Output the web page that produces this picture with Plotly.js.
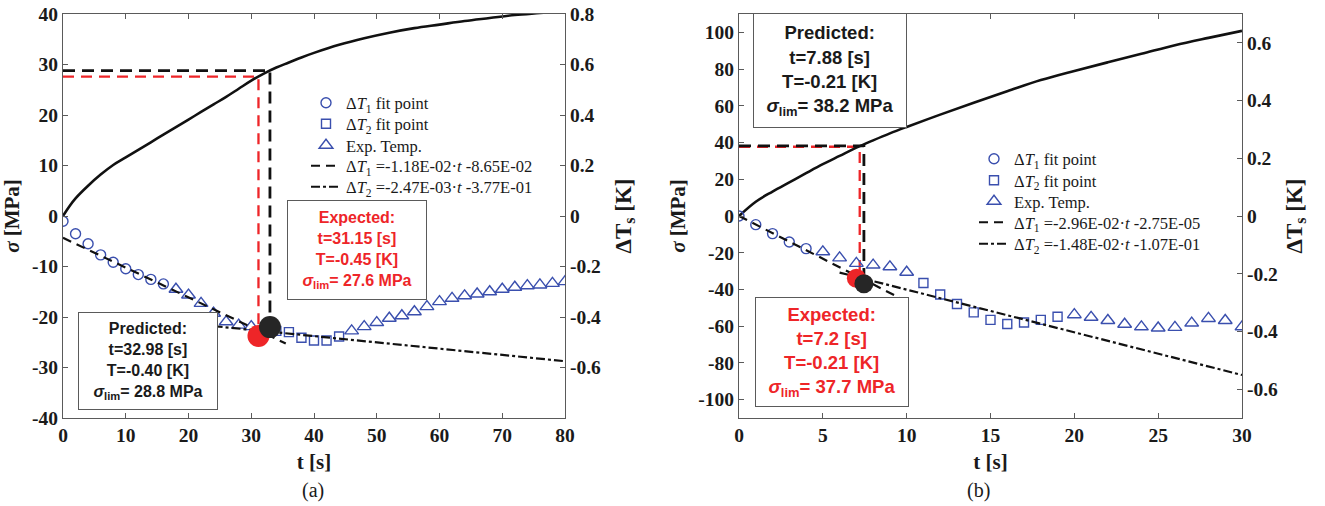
<!DOCTYPE html>
<html>
<head>
<meta charset="utf-8">
<script src="https://cdn.plot.ly/plotly-3.0.1.min.js"></script>
<style>html,body{margin:0;padding:0;background:#fff;}#chart{width:1325px;height:506px;}</style>
</head>
<body>
<div id="chart"></div>
<script>
// ---------- Panel (a) data ----------
const aCurveT = [0,1,2,4,6,8,10,12,14,16,18,20,22,24,26,28,30,32,34,36,38,40,44,48,52,56,60,64,68,72,76,80];
const aCurveSigma = [0,1.9,3.5,6.0,8.2,10.1,11.6,13.1,14.6,16.1,17.6,19.1,20.6,22.1,23.6,25.2,26.8,28.2,29.4,30.4,31.4,32.3,33.9,35.2,36.3,37.2,37.9,38.6,39.2,39.8,40.2,40.6];
const aCircT = [0,2,4,6,8,10,12,14,16];
const aCircDT = [-0.021,-0.07,-0.11,-0.154,-0.183,-0.209,-0.232,-0.251,-0.269];
const aSqT = [34,36,38,40,42,44];
const aSqDT = [-0.455,-0.46,-0.482,-0.493,-0.493,-0.477];
const aTriT = [18,20,22,24,26,28,30,32,46,48,50,52,54,56,58,60,62,64,66,68,70,72,74,76,78,80];
const aTriDT = [-0.29,-0.313,-0.346,-0.385,-0.419,-0.432,-0.438,-0.443,-0.455,-0.438,-0.422,-0.405,-0.395,-0.379,-0.359,-0.339,-0.326,-0.316,-0.309,-0.3,-0.29,-0.282,-0.276,-0.273,-0.267,-0.26];
const aFit1T = [0,35.5], aFit1DT = [-0.0865,-0.505];
const aFit2T = [24,80], aFit2DT = [-0.436,-0.575];
const aExpT = [0,31.15,31.15], aExpSigma = [27.6,27.6,-23.7];
const aPredT = [0,32.98,32.98], aPredSigma = [28.8,28.8,-22];
const aDotT = [31.15,32.98], aDotDT = [-0.475,-0.44];
const aFit1Name = 'Δ<i>T</i><sub>1</sub> =-1.18E-02·<i>t</i> -8.65E-02';
const aFit2Name = 'Δ<i>T</i><sub>2</sub> =-2.47E-03·<i>t</i> -3.77E-01';
const aExpText = 'Expected:<br>t=31.15 [s]<br>T=-0.45 [K]<br><i>σ</i><sub>lim</sub>= 27.6 MPa';
const aPredText = 'Predicted:<br>t=32.98 [s]<br>T=-0.40 [K]<br><i>σ</i><sub>lim</sub>= 28.8 MPa';
const aXTicks = [0,10,20,30,40,50,60,70,80];
const aYTicks = [-40,-30,-20,-10,0,10,20,30,40];
const aYTickText = ['-40','-30','-20','-10','0','10','20','30','40'];
const aY2Ticks = [-0.6,-0.4,-0.2,0,0.2,0.4,0.6,0.8];
const aY2TickText = ['-0.6','-0.4','-0.2','0','0.2','0.4','0.6','0.8'];

// ---------- Panel (b) data ----------
const bCurveT = [0,1,2,3,4,5,6,7,8,9,10,12,14,16,18,20,22,24,26,28,30];
const bCurveSigma = [0,7.8,13.3,18.3,23.3,28.2,32.7,37.2,41.2,45,48.5,55.2,61.7,67.9,74,79,83.7,88.3,93,97,100.8];
const bCircT = [0,1,2,3,4];
const bCircDT = [0,-0.03,-0.061,-0.09,-0.113];
const bSqT = [11,12,13,14,15,16,17,18,19];
const bSqDT = [-0.232,-0.272,-0.305,-0.334,-0.36,-0.374,-0.369,-0.36,-0.349];
const bTriT = [5,6,7,8,9,10,20,21,22,23,24,25,26,27,28,29,30];
const bTriDT = [-0.124,-0.145,-0.164,-0.17,-0.176,-0.195,-0.342,-0.351,-0.362,-0.375,-0.384,-0.388,-0.386,-0.371,-0.355,-0.362,-0.384];
const bFit1T = [0,10], bFit1DT = [0,-0.296];
const bFit2T = [6,30], bFit2DT = [-0.196,-0.551];
const bExpT = [0,7.2,7.2], bExpSigma = [37.7,37.7,-34];
const bPredT = [0,7.45,7.45], bPredSigma = [38.2,38.2,-37];
const bDotT = [7.0,7.45], bDotDT = [-0.216,-0.235];
const bFit1Name = 'Δ<i>T</i><sub>1</sub> =-2.96E-02·<i>t</i> -2.75E-05';
const bFit2Name = 'Δ<i>T</i><sub>2</sub> =-1.48E-02·<i>t</i> -1.07E-01';
const bExpText = 'Expected:<br>t=7.2 [s]<br>T=-0.21 [K]<br><i>σ</i><sub>lim</sub>= 37.7 MPa';
const bPredText = 'Predicted:<br>t=7.88 [s]<br>T=-0.21 [K]<br><i>σ</i><sub>lim</sub>= 38.2 MPa';
const bXTicks = [0,5,10,15,20,25,30];
const bYTicks = [-100,-80,-60,-40,-20,0,20,40,60,80,100];
const bYTickText = ['-100','-80','-60','-40','-20','0','20','40','60','80','100'];
const bY2Ticks = [-0.6,-0.4,-0.2,0,0.2,0.4,0.6];
const bY2TickText = ['-0.6','-0.4','-0.2','0','0.2','0.4','0.6'];

const legendNames = ['Δ<i>T</i><sub>1</sub> fit point','Δ<i>T</i><sub>2</sub> fit point','Exp. Temp.'];

// ---------- styles ----------
const W = 1325, H = 506;
const BLUE = '#3a4fae', RED = '#ee2528', BLK = '#111111', AX = '#5a5a5a';
const serif = 'Liberation Serif, Times New Roman, serif';
const sans = 'Liberation Sans, Arial, sans-serif';
const px = v => v / W, py = v => 1 - v / H;

// one legend box per entry, so each row sits at its own height
function panel(xa, ya, ya2, legs, d) {
  const tr = [];
  tr.push({x:d.expT, y:d.expS, xaxis:xa, yaxis:ya, mode:'lines', line:{color:RED, width:2.3, dash:'11px,7px'}, showlegend:false, hoverinfo:'skip'});
  tr.push({x:d.predT, y:d.predS, xaxis:xa, yaxis:ya, mode:'lines', line:{color:BLK, width:2.8, dash:'12px,7px'}, showlegend:false, hoverinfo:'skip'});
  tr.push({x:d.curveT, y:d.curveS, xaxis:xa, yaxis:ya, mode:'lines', line:{color:BLK, width:2.6, shape:'spline'}, showlegend:false});
  tr.push({x:d.circT, y:d.circDT, xaxis:xa, yaxis:ya2, mode:'markers', name:legendNames[0], legend:legs[0], marker:{symbol:'circle-open', size:10, color:BLUE, line:{width:1.4}}});
  tr.push({x:d.sqT, y:d.sqDT, xaxis:xa, yaxis:ya2, mode:'markers', name:legendNames[1], legend:legs[1], marker:{symbol:'square-open', size:9, color:BLUE, line:{width:1.4}}});
  tr.push({x:d.triT, y:d.triDT, xaxis:xa, yaxis:ya2, mode:'markers', name:legendNames[2], legend:legs[2], marker:{symbol:'triangle-up-open', size:12, color:BLUE, line:{width:1.4}}});
  tr.push({x:d.f1T, y:d.f1DT, xaxis:xa, yaxis:ya2, mode:'lines', name:d.f1Name, legend:legs[3], line:{color:BLK, width:2.2, dash:'9px,6px'}});
  tr.push({x:d.f2T, y:d.f2DT, xaxis:xa, yaxis:ya2, mode:'lines', name:d.f2Name, legend:legs[4], line:{color:BLK, width:2.2, dash:'9px,3px,3px,3px'}});
  tr.push({x:[d.dotT[0]], y:[d.dotDT[0]], xaxis:xa, yaxis:ya2, mode:'markers', showlegend:false, marker:{size:d.dotSize, color:RED}});
  tr.push({x:[d.dotT[1]], y:[d.dotDT[1]], xaxis:xa, yaxis:ya2, mode:'markers', showlegend:false, marker:{size:d.dotSize, color:'#262626'}});
  return tr;
}

const legsA = ['legend','legend2','legend3','legend4','legend5'];
const legsB = ['legend6','legend7','legend8','legend9','legend10'];

const data = [].concat(
  panel('x','y','y2',legsA,{expT:aExpT,expS:aExpSigma,predT:aPredT,predS:aPredSigma,curveT:aCurveT,curveS:aCurveSigma,
    circT:aCircT,circDT:aCircDT,sqT:aSqT,sqDT:aSqDT,triT:aTriT,triDT:aTriDT,f1T:aFit1T,f1DT:aFit1DT,f2T:aFit2T,f2DT:aFit2DT,
    f1Name:aFit1Name,f2Name:aFit2Name,dotT:aDotT,dotDT:aDotDT,dotSize:22}),
  panel('x2','y3','y4',legsB,{expT:bExpT,expS:bExpSigma,predT:bPredT,predS:bPredSigma,curveT:bCurveT,curveS:bCurveSigma,
    circT:bCircT,circDT:bCircDT,sqT:bSqT,sqDT:bSqDT,triT:bTriT,triDT:bTriDT,f1T:bFit1T,f1DT:bFit1DT,f2T:bFit2T,f2DT:bFit2DT,
    f1Name:bFit1Name,f2Name:bFit2Name,dotT:bDotT,dotDT:bDotDT,dotSize:19})
);

const tickFont = {family:serif, size:19.5, color:'#1a1a1a', weight:'bold'};
const titleFont = {family:serif, size:21, color:'#1a1a1a', weight:'bold'};
const yDom = [1 - 418/H, 1 - 14/H];

function xax(dom, range, ticks) {
  return {domain:dom, range:range, tickvals:ticks, ticktext:ticks.map(String), ticks:'inside', ticklen:5, tickcolor:AX,
    showline:true, linecolor:AX, linewidth:1, mirror:'ticks', showgrid:false, zeroline:false, automargin:false,
    tickfont:tickFont, title:{text:'t [s]', font:titleFont, standoff:8}};
}
function yaxL(anchor, range, tv, tt, standoff) {
  return {domain:yDom, anchor:anchor, range:range, tickvals:tv, ticktext:tt, ticks:'inside', ticklen:5, tickcolor:AX,
    showline:true, linecolor:AX, linewidth:1, showgrid:false, zeroline:false, automargin:false, tickfont:tickFont,
    title:{text:'<i>σ</i> [MPa]', font:titleFont, standoff:standoff}};
}
function yaxR(anchor, over, range, tv, tt, standoff) {
  return {anchor:anchor, overlaying:over, side:'right', range:range, tickvals:tv, ticktext:tt, ticks:'inside', ticklen:5, tickcolor:AX,
    showline:true, linecolor:AX, linewidth:1, showgrid:false, zeroline:false, automargin:false, tickfont:tickFont,
    title:{text:'ΔT<sub>s</sub> [K]', font:{family:serif, size:23, color:'#1a1a1a', weight:'bold'}, standoff:standoff}};
}

function box(cx, cy, w, h, text, color, size) {
  return {xref:'paper', yref:'paper', x:px(cx), y:py(cy), xanchor:'center', yanchor:'middle', showarrow:false,
    text:text, align:'center', width:w - 2, height:h - 2, borderpad:0, bordercolor:AX, borderwidth:1, bgcolor:'#ffffff',
    font:{family:sans, size:size, color:color, weight:'bold'}};
}

const legendBase = {bgcolor:'rgba(0,0,0,0)', borderwidth:0, font:{family:serif, size:16.5, color:'#1a1a1a'}, xanchor:'left', yanchor:'middle', itemwidth:30, tracegroupgap:0};

const layout = {
  width:W, height:H, margin:{l:0, r:0, t:0, b:0}, paper_bgcolor:'#fff', plot_bgcolor:'#fff', showlegend:true,
  xaxis: xax([63/W, 565/W], [0,80], aXTicks),
  yaxis: yaxL('x', [-40,40], aYTicks, aYTickText, 6),
  yaxis2: yaxR('x', 'y', [-0.8,0.8], aY2Ticks, aY2TickText, 14),
  xaxis2: Object.assign(xax([739/W, 1242/W], [0,30], bXTicks), {anchor:'y3'}),
  yaxis3: yaxL('x2', [-110,110], bYTicks, bYTickText, 6),
  yaxis4: yaxR('x2', 'y3', [-0.7,0.7], bY2Ticks, bY2TickText, 8),
  annotations: [
    box(357, 250, 140, 100, aExpText, RED, 16),
    box(148, 361, 140, 98, aPredText, '#1a1a1a', 16),
    box(830, 70.5, 154, 115, bPredText, '#1a1a1a', 18.5),
    box(832, 352, 154, 110, bExpText, RED, 18.5),
    {xref:'paper', yref:'paper', x:px(313), y:py(490), xanchor:'center', yanchor:'middle', showarrow:false, text:'(a)', font:{family:serif, size:20, color:'#1a1a1a'}},
    {xref:'paper', yref:'paper', x:px(978), y:py(490), xanchor:'center', yanchor:'middle', showarrow:false, text:'(b)', font:{family:serif, size:20, color:'#1a1a1a'}}
  ]
};
layout.xaxis.anchor = 'y';

const rowsA = [103, 124, 145.5, 166, 187];
const rowsB = [159, 180.5, 201.5, 222.5, 244];
legsA.forEach((k, i) => { layout[k] = Object.assign({}, legendBase, {x:px(306), y:py(rowsA[i])}); });
legsB.forEach((k, i) => { layout[k] = Object.assign({}, legendBase, {x:px(974), y:py(rowsB[i])}); });

Plotly.newPlot('chart', data, layout, {staticPlot:true, displayModeBar:false});
</script>
</body>
</html>
